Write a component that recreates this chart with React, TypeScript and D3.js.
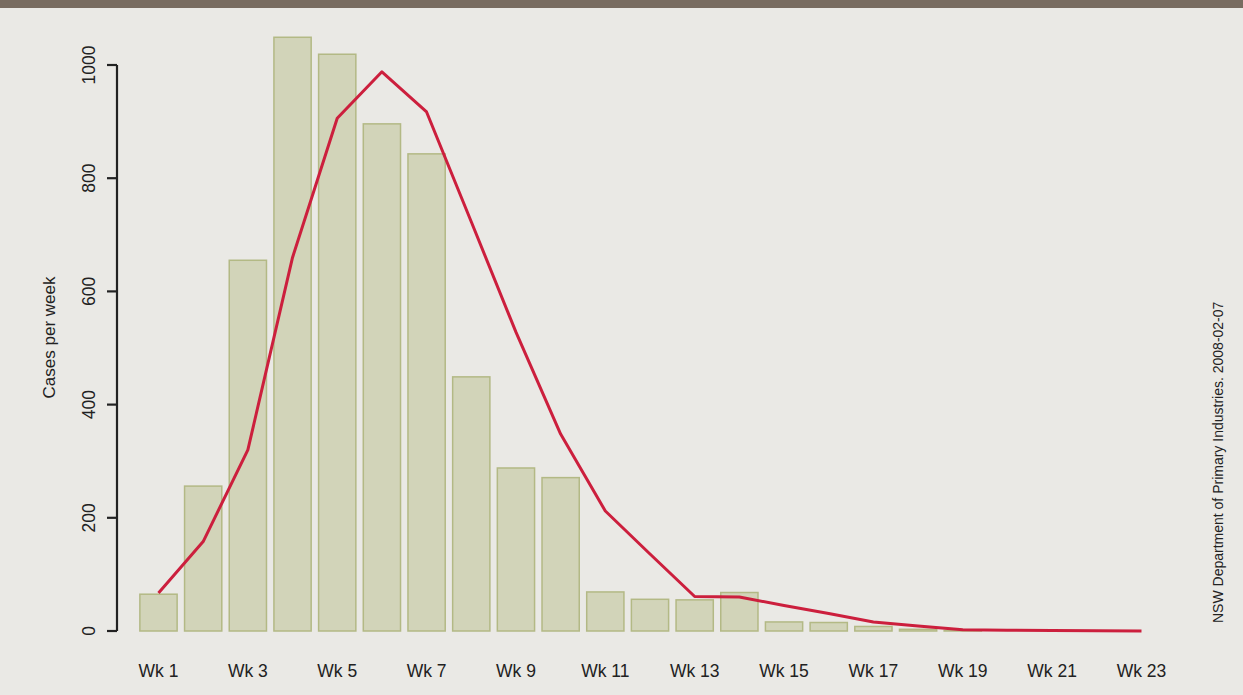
import * as d3 from "d3";

// weekly cases (bars) and fitted curve (red line)
const weeks = d3.range(1, 24);
const cases = [65, 256, 655, 1049, 1019, 896, 843, 449, 288, 271, 69, 56, 55, 68, 16, 15, 8, 3, 1, 0, 0, 0, 0];
const curve = [67, 158, 320, 660, 906, 988, 917, 723, 528, 348, 212, 136, 61, 60, 45, 31, 16, 9, 2, 1.5, 1, 0.5, 0];
const yTicks = [0, 200, 400, 600, 800, 1000];
const xLabelWeeks = [1, 3, 5, 7, 9, 11, 13, 15, 17, 19, 21, 23];

export default function App() {
  const width = 1243;
  const height = 695;
  const font = '"Liberation Sans", Arial, Helvetica, sans-serif';

  const x = d3.scaleLinear().domain([1, 23]).range([158.5, 1141.5]);
  const y = d3.scaleLinear().domain([0, 1000]).range([631, 65]);
  const step = x(2) - x(1);
  const barW = step / 1.2;

  const line = d3
    .line<number>()
    .x((_, i) => x(weeks[i]))
    .y((d) => y(d));

  return (
    <svg
      width={width}
      height={height}
      style={{ position: "absolute", left: 0, top: 0, display: "block" }}
    >
      <rect x={0} y={0} width={width} height={height} fill="#eae9e5" />
      <rect x={0} y={0} width={width} height={8} fill="#786c60" />

      {/* bars */}
      {cases.map((v, i) =>
        v > 0 ? (
          <rect
            key={i}
            x={x(weeks[i]) - barW / 2}
            y={y(v)}
            width={barW}
            height={y(0) - y(v)}
            fill="#d2d4b9"
            stroke="#b3b985"
            strokeWidth={1.5}
          />
        ) : null
      )}

      {/* curve */}
      <path d={line(curve) ?? ""} fill="none" stroke="#cc1f3d" strokeWidth={3} strokeLinejoin="round" />

      {/* y axis */}
      <line x1={117} x2={117} y1={y(0)} y2={y(1000)} stroke="#222" strokeWidth={2.2} />
      {yTicks.map((t) => (
        <g key={t}>
          <line x1={107} x2={117} y1={y(t)} y2={y(t)} stroke="#222" strokeWidth={2.2} />
          <text
            transform={`translate(95,${y(t)}) rotate(-90)`}
            textAnchor="middle"
            fontSize={17.5}
            fontFamily={font}
            fill="#222"
          >
            {t}
          </text>
        </g>
      ))}
      <text
        transform={`translate(55,337.5) rotate(-90)`}
        textAnchor="middle"
        fontSize={17}
        fontFamily={font}
        fill="#222"
      >
        Cases per week
      </text>

      {/* x labels */}
      {xLabelWeeks.map((w) => (
        <text
          key={w}
          x={x(w)}
          y={677}
          textAnchor="middle"
          fontSize={17.5}
          fontFamily={font}
          fill="#222"
        >
          {`Wk ${w}`}
        </text>
      ))}

      {/* source note */}
      <text
        transform={`translate(1223,623) rotate(-90)`}
        textAnchor="start"
        fontSize={14}
        fontFamily={font}
        fill="#222"
      >
        NSW Department of Primary Industries. 2008-02-07
      </text>
    </svg>
  );
}
